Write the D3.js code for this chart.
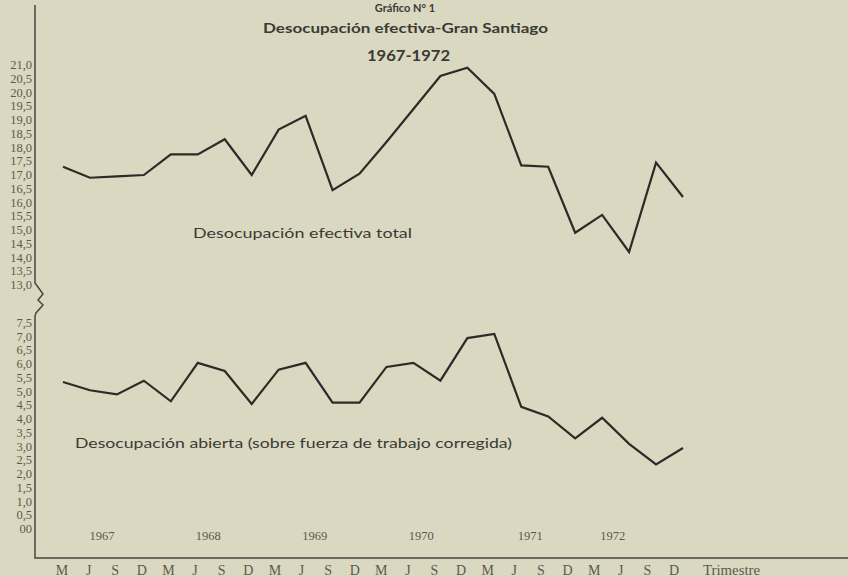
<!DOCTYPE html>
<html>
<head>
<meta charset="utf-8">
<script src="https://cdn.jsdelivr.net/npm/d3@7"></script>
<style>
  html, body { margin: 0; padding: 0; background: #dad8c1; }
  svg { display: block; }
</style>
</head>
<body>
<svg id="chart" width="848" height="577"></svg>
<script>
// ---- data ----
const years = [1967, 1968, 1969, 1970, 1971, 1972];
const quarterLetters = ["M", "J", "S", "D"];
const yearLabelPos = [1.5, 5.5, 9.5, 13.5, 17.6, 20.7];
const efectivaTotal = [17.3, 16.9, 16.95, 17.0, 17.75, 17.75, 18.3, 17.0, 18.65, 19.15, 16.45, 17.05,
                       18.2, 19.4, 20.6, 20.9, 19.95, 17.35, 17.3, 14.9, 15.55, 14.2, 17.45, 16.2];
const abierta = [5.35, 5.05, 4.9, 5.4, 4.65, 6.05, 5.75, 4.55, 5.8, 6.05, 4.6, 4.6,
                 5.9, 6.05, 5.4, 6.95, 7.1, 4.45, 4.1, 3.3, 4.05, 3.1, 2.35, 2.95];
const upperTicks = d3.range(13, 21.01, 0.5);
const lowerTicks = d3.range(0, 7.51, 0.5);
const quarterLabels = years.flatMap(() => quarterLetters);

// ---- layout ----
const svg = d3.select("#chart");
const ink = "#2c2b27";
const textCol = "#3b3a34";
const tickCol = "#5b5a50";
const axisX = 35, axisBottom = 558;

const idx = d3.range(efectivaTotal.length);
const x = d3.scalePoint().domain(idx).range([63, 683]);
const xLab = d3.scaleLinear().domain([0, 23]).range([62, 674]);
const yU = d3.scaleLinear().domain([13, 21]).range([285, 65]);
const yL = d3.scaleLinear().domain([0, 7.5]).range([529, 323]);

// title
svg.append("text").attr("x", 405).attr("y", 12)
  .attr("text-anchor", "middle").attr("font-family", "Lato, sans-serif")
  .attr("font-weight", "bold").attr("font-size", 11).attr("fill", textCol)
  .text("Gráfico N° 1");
svg.append("text").attr("x", 263).attr("y", 33)
  .attr("font-family", "Lato, sans-serif").attr("font-weight", "bold")
  .attr("font-size", 14).attr("fill", textCol)
  .attr("textLength", 285).attr("lengthAdjust", "spacingAndGlyphs")
  .text("Desocupación efectiva-Gran Santiago");
svg.append("text").attr("x", 367).attr("y", 61)
  .attr("font-family", "Lato, sans-serif").attr("font-weight", "bold")
  .attr("font-size", 15).attr("fill", textCol)
  .attr("textLength", 83).attr("lengthAdjust", "spacingAndGlyphs")
  .text("1967-1972");

// axes (with break)
svg.append("path")
  .attr("d", `M${axisX},5 V283 L43,294 L38,300 L43,305 L36,313 L${axisX},316 V${axisBottom} H848`)
  .attr("fill", "none").attr("stroke", "#47463f").attr("stroke-width", 1.5);

// y tick labels
const fmt = v => v === 0 ? "00" : d3.format(".1f")(v).replace(".", ",");
const tickStyle = sel => sel.attr("x", 32).attr("text-anchor", "end")
  .attr("dominant-baseline", "central")
  .attr("font-family", "'Liberation Serif', serif").attr("font-size", 12.5)
  .attr("fill", tickCol).text(fmt);
svg.append("g").selectAll("text").data(upperTicks).join("text")
  .attr("y", d => yU(d)).call(tickStyle);
svg.append("g").selectAll("text").data(lowerTicks).join("text")
  .attr("y", d => yL(d)).call(tickStyle);

// x labels
svg.append("g").selectAll("text").data(quarterLabels).join("text")
  .attr("x", (d, i) => xLab(i)).attr("y", 575).attr("text-anchor", "middle")
  .attr("font-family", "'Liberation Serif', serif").attr("font-size", 14)
  .attr("fill", tickCol).text(d => d);
svg.append("text").attr("x", 703).attr("y", 575)
  .attr("font-family", "'Liberation Serif', serif").attr("font-size", 14)
  .attr("fill", tickCol).attr("textLength", 57).attr("lengthAdjust", "spacingAndGlyphs")
  .text("Trimestre");
svg.append("g").selectAll("text").data(years).join("text")
  .attr("x", (d, i) => xLab(yearLabelPos[i])).attr("y", 540).attr("text-anchor", "middle")
  .attr("font-family", "'Liberation Serif', serif").attr("font-size", 12.5)
  .attr("fill", tickCol).text(d => d);

// lines
const lineU = d3.line().x((d, i) => x(i)).y(d => yU(d));
const lineL = d3.line().x((d, i) => x(i)).y(d => yL(d));
svg.append("path").datum(efectivaTotal).attr("d", lineU)
  .attr("fill", "none").attr("stroke", ink).attr("stroke-width", 2.2)
  .attr("stroke-linejoin", "miter");
svg.append("path").datum(abierta).attr("d", lineL)
  .attr("fill", "none").attr("stroke", ink).attr("stroke-width", 2.2)
  .attr("stroke-linejoin", "miter");

// series labels
svg.append("text").attr("x", 193).attr("y", 238)
  .attr("font-family", "Lato, sans-serif").attr("font-size", 14).attr("fill", textCol)
  .attr("textLength", 219).attr("lengthAdjust", "spacingAndGlyphs")
  .text("Desocupación efectiva total");
svg.append("text").attr("x", 75).attr("y", 448)
  .attr("font-family", "Lato, sans-serif").attr("font-size", 14).attr("fill", textCol)
  .attr("textLength", 437).attr("lengthAdjust", "spacingAndGlyphs")
  .text("Desocupación abierta (sobre fuerza de trabajo corregida)");
</script>
</body>
</html>
